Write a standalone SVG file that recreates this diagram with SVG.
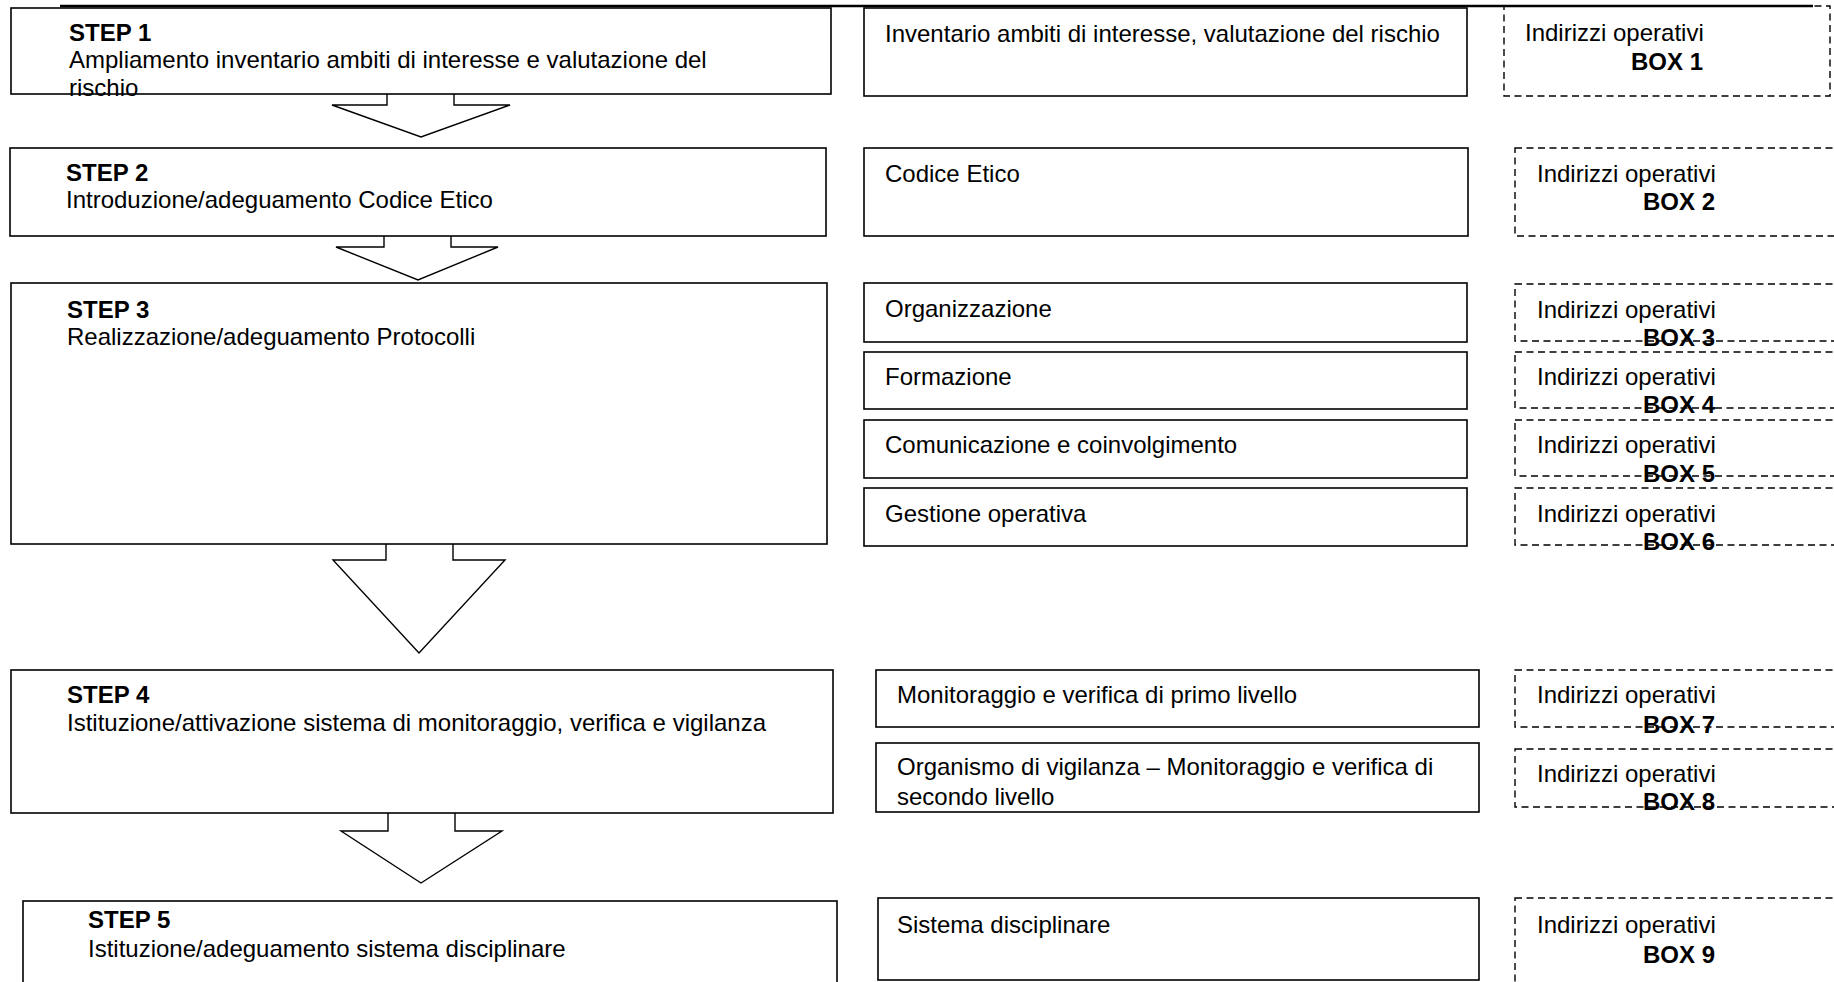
<svg xmlns="http://www.w3.org/2000/svg" width="1834" height="982" viewBox="0 0 1834 982">
<style>
.box{fill:#fff;stroke:#000;stroke-width:1.6}
.dash{fill:none;stroke:#000;stroke-width:1.4;stroke-dasharray:7 4.5}
.arrow{fill:#fff;stroke:#000;stroke-width:1.4;stroke-linejoin:miter}
text{font-family:"Liberation Sans",Arial,sans-serif;font-size:24px;fill:#000}
.b{font-weight:bold}
</style>
<rect width="1834" height="982" fill="#fff"/>
<line x1="60" y1="6" x2="1813" y2="6" stroke="#000" stroke-width="2.5"/>
<g id="connectors">
<polyline class="arrow" points="387,94 387,105 332,105 421,137 510,105 454,105 454,94"/>
<polyline class="arrow" points="384,236 384,247 336,247 418,280 498,247 451,247 451,236"/>
<polyline class="arrow" points="386,544 386,560 333,560 419,653 505,560 453,560 453,544"/>
<polyline class="arrow" points="388,813 388,831 341,831 421,883 502,831 455,831 455,813"/>
</g>
<g id="step1"><rect class="box" x="11" y="8" width="820" height="86"/>
<text x="69" y="41" class="b">STEP 1</text><text x="69" y="68">Ampliamento inventario ambiti di interesse e valutazione del</text><text x="69" y="96">rischio</text></g>
<g id="step2"><rect class="box" x="10" y="148" width="816" height="88"/>
<text x="66" y="181" class="b">STEP 2</text><text x="66" y="208">Introduzione/adeguamento Codice Etico</text></g>
<g id="step3"><rect class="box" x="11" y="283" width="816" height="261"/>
<text x="67" y="318" class="b">STEP 3</text><text x="67" y="345">Realizzazione/adeguamento Protocolli</text></g>
<g id="step4"><rect class="box" x="11" y="670" width="822" height="143"/>
<text x="67" y="703" class="b">STEP 4</text><text x="67" y="731">Istituzione/attivazione sistema di monitoraggio, verifica e vigilanza</text></g>
<g id="step5"><rect class="box" x="23" y="901" width="814" height="100"/>
<text x="88" y="928" class="b">STEP 5</text><text x="88" y="957">Istituzione/adeguamento sistema disciplinare</text></g>
<g id="m1"><rect class="box" x="864" y="8" width="603" height="88"/><text x="885" y="42">Inventario ambiti di interesse, valutazione del rischio</text></g>
<g id="m2"><rect class="box" x="864" y="148" width="604" height="88"/><text x="885" y="182">Codice Etico</text></g>
<g id="m3"><rect class="box" x="864" y="283" width="603" height="59"/><text x="885" y="317">Organizzazione</text></g>
<g id="m4"><rect class="box" x="864" y="352" width="603" height="57"/><text x="885" y="385">Formazione</text></g>
<g id="m5"><rect class="box" x="864" y="420" width="603" height="58"/><text x="885" y="453">Comunicazione e coinvolgimento</text></g>
<g id="m6"><rect class="box" x="864" y="488" width="603" height="58"/><text x="885" y="522">Gestione operativa</text></g>
<g id="m7"><rect class="box" x="876" y="670" width="603" height="57"/><text x="897" y="703">Monitoraggio e verifica di primo livello</text></g>
<g id="m8"><rect class="box" x="876" y="743" width="603" height="69"/><text x="897" y="775">Organismo di vigilanza – Monitoraggio e verifica di</text><text x="897" y="805">secondo livello</text></g>
<g id="m9"><rect class="box" x="878" y="898" width="601" height="82"/><text x="897" y="933">Sistema disciplinare</text></g>
<g id="box1"><rect class="dash" x="1504" y="6" width="326" height="90"/><text x="1525" y="41">Indirizzi operativi</text><text x="1631" y="70" class="b">BOX 1</text></g>
<g id="box2"><rect class="dash" x="1515" y="148" width="340" height="88"/><text x="1537" y="182">Indirizzi operativi</text><text x="1643" y="210" class="b">BOX 2</text></g>
<g id="box3"><rect class="dash" x="1515" y="284" width="340" height="57"/><text x="1537" y="318">Indirizzi operativi</text><text x="1643" y="346" class="b">BOX 3</text></g>
<g id="box4"><rect class="dash" x="1515" y="352" width="340" height="56"/><text x="1537" y="385">Indirizzi operativi</text><text x="1643" y="413" class="b">BOX 4</text></g>
<g id="box5"><rect class="dash" x="1515" y="420" width="340" height="56"/><text x="1537" y="453">Indirizzi operativi</text><text x="1643" y="482" class="b">BOX 5</text></g>
<g id="box6"><rect class="dash" x="1515" y="488" width="340" height="57"/><text x="1537" y="522">Indirizzi operativi</text><text x="1643" y="550" class="b">BOX 6</text></g>
<g id="box7"><rect class="dash" x="1515" y="670" width="340" height="57"/><text x="1537" y="703">Indirizzi operativi</text><text x="1643" y="733" class="b">BOX 7</text></g>
<g id="box8"><rect class="dash" x="1515" y="749" width="340" height="58"/><text x="1537" y="782">Indirizzi operativi</text><text x="1643" y="810" class="b">BOX 8</text></g>
<g id="box9"><rect class="dash" x="1515" y="898" width="340" height="110"/><text x="1537" y="933">Indirizzi operativi</text><text x="1643" y="963" class="b">BOX 9</text></g>
</svg>
